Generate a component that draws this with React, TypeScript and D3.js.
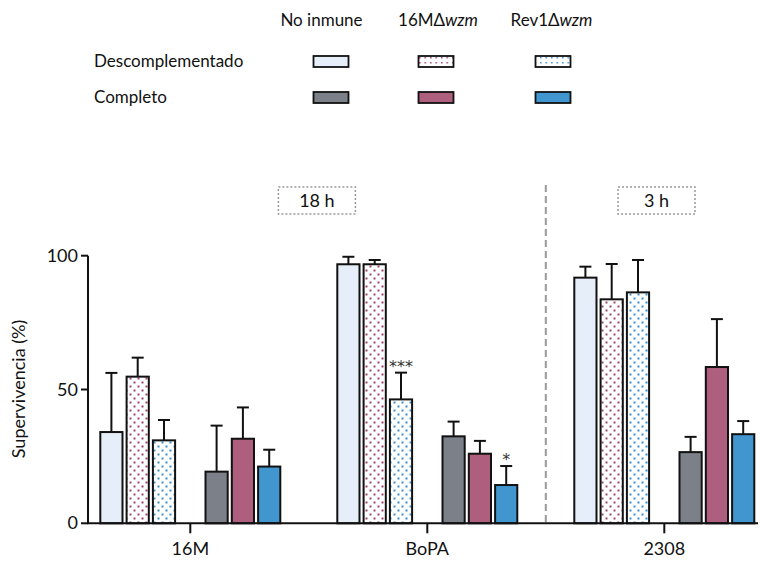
import React from "react";
import * as d3 from "d3";

const categories = ["16M", "BoPA", "2308"];
const seriesNames = ["No inmune", "16MΔ", "Rev1Δ"];
const rowNames = ["Descomplementado", "Completo"];
const yTicks = [0, 50, 100];
const timeLabels = ["18 h", "3 h"];

const noInmuneDesc = [34.1, 96.8, 91.8];
const noInmuneDescErr = [22.1, 2.8, 4.1];
const m16Desc = [54.8, 96.8, 83.7];
const m16DescErr = [7.1, 1.6, 13.2];
const rev1Desc = [31.0, 46.3, 86.3];
const rev1DescErr = [7.6, 10.0, 12.1];
const noInmuneComp = [19.3, 32.5, 26.6];
const noInmuneCompErr = [17.2, 5.5, 5.7];
const m16Comp = [31.6, 26.0, 58.4];
const m16CompErr = [11.7, 4.8, 17.9];
const rev1Comp = [21.2, 14.3, 33.3];
const rev1CompErr = [6.3, 7.1, 4.9];

const sigLabels = [
  { cat: "BoPA", slot: 2, label: "***" },
  { cat: "BoPA", slot: 6, label: "*" },
];

const FONT = "Lato, 'Open Sans', sans-serif";

export default function App() {
  const W = 760, H = 565;
  const x0 = d3.scalePoint<string>().domain(categories).range([190.3, 664.3]);
  const slot = d3.scaleBand<number>().domain(d3.range(7)).range([-91, 91]).paddingInner(0.08);
  const y = d3.scaleLinear().domain([0, 100]).range([523.3, 255.7]);
  const axisX = 88;

  const series = [
    { vals: noInmuneDesc, err: noInmuneDescErr, slot: 0, fill: "#e6eef9" },
    { vals: m16Desc, err: m16DescErr, slot: 1, fill: "url(#dotPink)" },
    { vals: rev1Desc, err: rev1DescErr, slot: 2, fill: "url(#dotBlue)" },
    { vals: noInmuneComp, err: noInmuneCompErr, slot: 4, fill: "#7b8089" },
    { vals: m16Comp, err: m16CompErr, slot: 5, fill: "#ad5f7d" },
    { vals: rev1Comp, err: rev1CompErr, slot: 6, fill: "#4196cf" },
  ];

  const legendX = [331, 436, 553];
  const legendTextX = [321.5, 438, 551.5];
  const legendFills = [
    ["#e6eef9", "url(#dotPinkS)", "url(#dotBlueS)"],
    ["#7b8089", "#ad5f7d", "#4196cf"],
  ];
  const divider = ((x0("BoPA") as number) + (x0("2308") as number)) / 2;
  const boxCenters = [(axisX + divider) / 2, 656.5];

  return (
    <svg width={W} height={H} style={{ position: "absolute", left: 0, top: 0 }} fontFamily={FONT}>
      <defs>
        <pattern id="dotPink" patternUnits="userSpaceOnUse" width={8} height={8}>
          <rect width={8} height={8} fill="#fff" />
          <rect x={1.5} y={1.5} width={2} height={2} fill="#a0456c" />
          <rect x={5.5} y={5.5} width={2} height={2} fill="#a0456c" />
        </pattern>
        <pattern id="dotBlue" patternUnits="userSpaceOnUse" width={8} height={8}>
          <rect width={8} height={8} fill="#fff" />
          <rect x={1.5} y={1.5} width={2} height={2} fill="#3a8fd0" />
          <rect x={5.5} y={5.5} width={2} height={2} fill="#3a8fd0" />
        </pattern>
        <pattern id="dotPinkS" patternUnits="userSpaceOnUse" width={5.5} height={5}>
          <rect width={5.5} height={5} fill="#fff" />
          <rect x={1} y={2} width={1.5} height={1.5} fill="#a0456c" />
        </pattern>
        <pattern id="dotBlueS" patternUnits="userSpaceOnUse" width={5.5} height={5}>
          <rect width={5.5} height={5} fill="#fff" />
          <rect x={1} y={2} width={1.5} height={1.5} fill="#3a8fd0" />
        </pattern>
      </defs>
      <rect width={W} height={H} fill="#fff" />

      {/* Legend header */}
      {seriesNames.map((s, i) => (
        <text key={s} x={legendTextX[i]} y={26} fontSize={17} textAnchor="middle" fill="#111">
          {s}
          {i > 0 && <tspan fontStyle="italic">wzm</tspan>}
        </text>
      ))}
      {rowNames.map((r, ri) => (
        <g key={r}>
          <text x={94} y={67 + ri * 36} fontSize={17} fill="#111">{r}</text>
          {legendFills[ri].map((f, i) => (
            <rect key={i} x={legendX[i] - 17.5} y={56 + ri * 36} width={35} height={11}
              fill={f} stroke="#111" strokeWidth={1.8} />
          ))}
        </g>
      ))}

      {/* time boxes */}
      {timeLabels.map((t, i) => (
        <g key={t}>
          <rect x={boxCenters[i] - 38.5} y={187} width={77} height={27} fill="none"
            stroke="#9a9a9a" strokeWidth={1.5} strokeDasharray="2,2" />
          <text x={boxCenters[i]} y={207} fontSize={18} textAnchor="middle" fill="#111">{t}</text>
        </g>
      ))}
      <line x1={divider} x2={divider} y1={185} y2={523} stroke="#999" strokeWidth={2} strokeDasharray="7,4" />

      {/* bars */}
      {series.map((s, si) =>
        categories.map((c, ci) => {
          const bx = (x0(c) as number) + (slot(s.slot) as number);
          const bw = slot.bandwidth();
          const top = y(s.vals[ci]);
          const et = y(s.vals[ci] + s.err[ci]);
          const cx = bx + bw / 2;
          return (
            <g key={`${si}-${ci}`}>
              <line x1={cx} x2={cx} y1={top} y2={et} stroke="#111" strokeWidth={2} />
              <line x1={cx - 6} x2={cx + 6} y1={et} y2={et} stroke="#111" strokeWidth={2} />
              <rect x={bx + 1} y={top} width={bw - 2} height={y(0) - top} fill={s.fill}
                stroke="#111" strokeWidth={2} />
            </g>
          );
        })
      )}

      {/* significance */}
      {sigLabels.map((sg, i) => {
        const s = series.find((q) => q.slot === sg.slot)!;
        const ci = categories.indexOf(sg.cat);
        const cx = (x0(sg.cat) as number) + (slot(sg.slot) as number) + slot.bandwidth() / 2;
        return (
          <text key={i} x={cx} y={y(s.vals[ci] + s.err[ci]) - 1} fontSize={16}
            fontFamily="'DejaVu Sans', sans-serif" textAnchor="middle" fill="#333">
            {sg.label}
          </text>
        );
      })}

      {/* axes */}
      <line x1={axisX} x2={axisX} y1={y(100)} y2={y(0)} stroke="#111" strokeWidth={2} />
      <line x1={axisX - 1} x2={758} y1={y(0)} y2={y(0)} stroke="#111" strokeWidth={2} />
      {yTicks.map((t) => (
        <g key={t}>
          <line x1={axisX - 7} x2={axisX} y1={y(t)} y2={y(t)} stroke="#111" strokeWidth={2} />
          <text x={axisX - 10} y={y(t) + 6} fontSize={18} textAnchor="end" fill="#111">{t}</text>
        </g>
      ))}
      {categories.map((c) => (
        <g key={c}>
          <line x1={x0(c)} x2={x0(c)} y1={y(0)} y2={y(0) + 10} stroke="#111" strokeWidth={2} />
          <text x={x0(c)} y={555} fontSize={18} textAnchor="middle" fill="#111">{c}</text>
        </g>
      ))}
      <text transform={`translate(25,389) rotate(-90)`} fontSize={18} textAnchor="middle" fill="#111">
        Supervivencia (%)
      </text>
    </svg>
  );
}
